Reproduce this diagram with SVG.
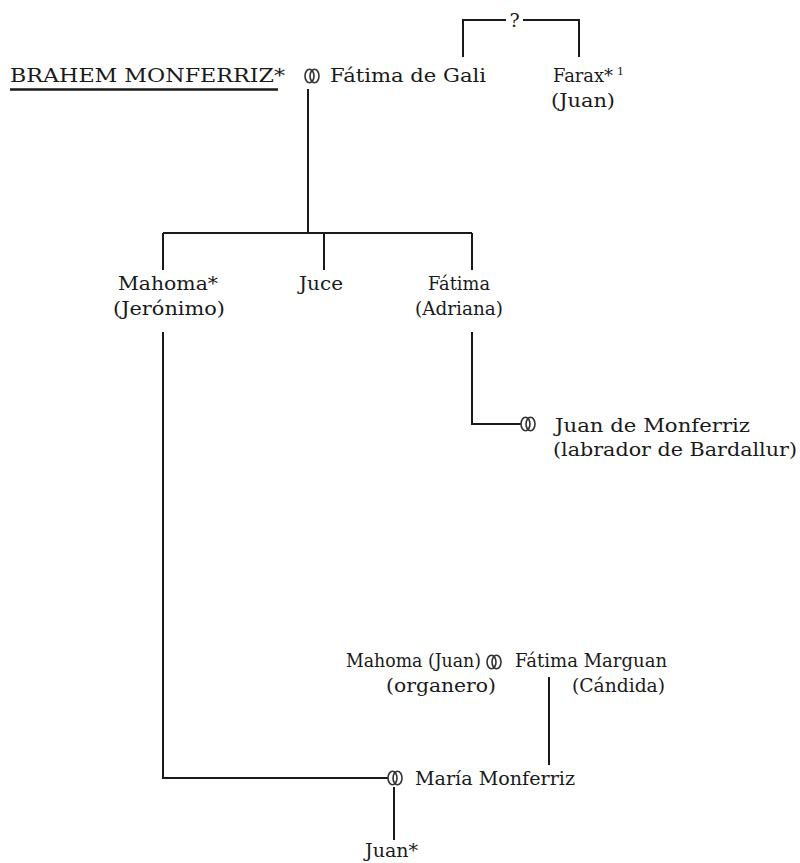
<svg xmlns="http://www.w3.org/2000/svg" width="800" height="863" viewBox="0 0 800 863">
  <style>
    .t { font-family: "DejaVu Serif", "Liberation Serif", serif; font-size: 18px; fill: #1a1a1a; }
    .sup { font-family: "DejaVu Serif", "Liberation Serif", serif; font-size: 11px; fill: #1a1a1a; }
    .q { font-family: "DejaVu Serif", "Liberation Serif", serif; font-size: 19px; fill: #1a1a1a; }
    .ln { fill: none; stroke: #1a1a1a; stroke-width: 2; }
    .ring { fill: none; stroke: #333; stroke-width: 1.6; }
  </style>
  <defs>
    <!-- marriage sign: two interlocking rings -->
    <g id="rings">
      <ellipse class="ring" cx="-2.5" cy="0" rx="4.5" ry="6.7"/>
      <ellipse class="ring" cx="2.5" cy="0" rx="4.5" ry="6.7"/>
    </g>
  </defs>
  <rect width="800" height="863" fill="#fff"/>

  <g id="connectors">
    <!-- uncertain link between Fátima de Gali and Farax -->
    <path class="ln" d="M463 57 V20 H506 M523 20 H579 V57"/>
    <text class="q" x="514.5" y="27" text-anchor="middle">?</text>
    <!-- children of Braham and Fátima de Gali -->
    <path class="ln" d="M308 89 V233 M163 233 H472 M163 233 V270 M324 233 V270 M472 233 V270"/>
    <!-- Fátima (Adriana) marriage -->
    <path class="ln" d="M472 332 V424 H521"/>
    <!-- Mahoma (Jerónimo) line to María Monferriz marriage -->
    <path class="ln" d="M163 332 V778 H388"/>
    <!-- daughter of Mahoma (Juan) and Fátima Marguan -->
    <path class="ln" d="M549 677 V765"/>
    <!-- son Juan -->
    <path class="ln" d="M394 787 V840"/>
  </g>

  <g id="braham">
    <text class="t" x="10" y="82" textLength="275" lengthAdjust="spacingAndGlyphs">BRAHEM MONFERRIZ*</text>
    <line x1="10" y1="89.5" x2="278" y2="89.5" stroke="#1a1a1a" stroke-width="2.4"/>
  </g>
  <g id="m1"><use href="#rings" x="312" y="76"/></g>
  <g id="fatima-gali">
    <text class="t" x="330" y="82" textLength="156" lengthAdjust="spacingAndGlyphs">Fátima de Gali</text>
  </g>
  <g id="farax">
    <text class="t" x="553" y="82" textLength="60" lengthAdjust="spacingAndGlyphs">Farax*</text>
    <text class="sup" x="617" y="75">1</text>
    <text class="t" x="551" y="107" textLength="64" lengthAdjust="spacingAndGlyphs">(Juan)</text>
  </g>

  <g id="mahoma-jeronimo">
    <text class="t" x="118" y="290" textLength="100" lengthAdjust="spacingAndGlyphs">Mahoma*</text>
    <text class="t" x="113" y="315" textLength="112" lengthAdjust="spacingAndGlyphs">(Jerónimo)</text>
  </g>
  <g id="juce">
    <text class="t" x="299" y="290" textLength="44" lengthAdjust="spacingAndGlyphs">Juce</text>
  </g>
  <g id="fatima-adriana">
    <text class="t" x="428" y="290" textLength="62" lengthAdjust="spacingAndGlyphs">Fátima</text>
    <text class="t" x="415" y="315" textLength="88" lengthAdjust="spacingAndGlyphs">(Adriana)</text>
  </g>

  <g id="m2"><use href="#rings" x="528" y="424"/></g>
  <g id="juan-monferriz">
    <text class="t" x="555" y="432" textLength="195" lengthAdjust="spacingAndGlyphs">Juan de Monferriz</text>
    <text class="t" x="553" y="456" textLength="244" lengthAdjust="spacingAndGlyphs">(labrador de Bardallur)</text>
  </g>

  <g id="mahoma-juan">
    <text class="t" x="346" y="667" textLength="135" lengthAdjust="spacingAndGlyphs">Mahoma (Juan)</text>
    <text class="t" x="386" y="692" textLength="110" lengthAdjust="spacingAndGlyphs">(organero)</text>
  </g>
  <g id="m3"><use href="#rings" x="494" y="662"/></g>
  <g id="fatima-marguan">
    <text class="t" x="515" y="667" textLength="152" lengthAdjust="spacingAndGlyphs">Fátima Marguan</text>
    <text class="t" x="572" y="692" textLength="93" lengthAdjust="spacingAndGlyphs">(Cándida)</text>
  </g>

  <g id="m4"><use href="#rings" x="395" y="778"/></g>
  <g id="maria">
    <text class="t" x="415" y="785" textLength="160" lengthAdjust="spacingAndGlyphs">María Monferriz</text>
  </g>
  <g id="juan">
    <text class="t" x="365" y="857" textLength="53" lengthAdjust="spacingAndGlyphs">Juan*</text>
  </g>
</svg>
